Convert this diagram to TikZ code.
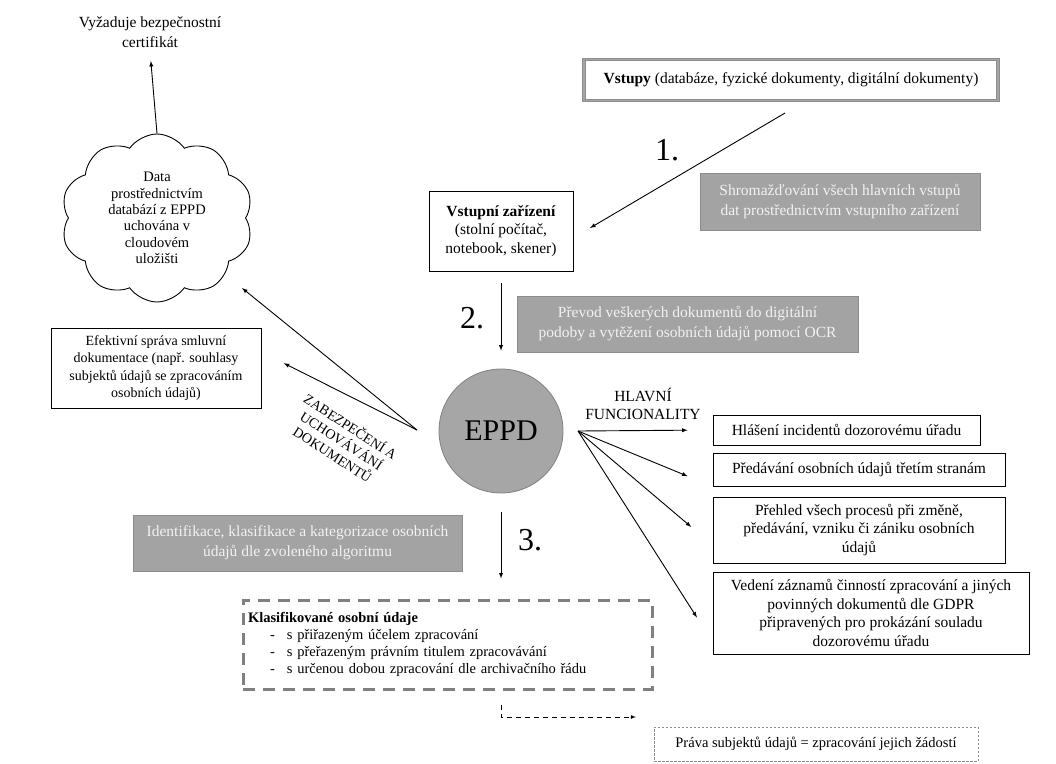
\documentclass[tikz,border=0pt]{standalone}
\usepackage{fontspec}
\setmainfont{Liberation Serif}
\usetikzlibrary{shapes.symbols}

\begin{document}
\begin{tikzpicture}[
      x=1pt, y=-1pt,
      pointer/.style={->, >=latex, line width=0.9pt, draw=black},
      dpointer/.style={->, >=latex, line width=0.8pt, dash pattern=on 5pt off 4pt, draw=black},
      box/.style={rectangle, draw=black, line width=0.9pt, align=center, inner sep=2pt, font=\fontsize{15.5}{18.5}\selectfont},
      graybox/.style={rectangle, draw=black!45, fill=black!36, text=black!5, line width=0.8pt, align=center, font=\fontsize{15.5}{20}\selectfont},
      number/.style={font=\fontsize{32}{32}\selectfont},
      small/.style={font=\fontsize{14.5}{16.3}\selectfont, align=center}
      ]
      \useasboundingbox (0,0) rectangle (1056,763);

      % Top left: cloud storage and its certificate
      \node[align=center, font=\fontsize{15.5}{20}\selectfont] (cert) at (150,32) {Vyžaduje bezpečnostní\\certifikát};
      \node[cloud, cloud puffs=10, cloud puff arc=110, aspect=1.15, draw, line width=0.9pt, inner sep=0pt,
            minimum width=192, minimum height=168, small] (cloud) at (157,218)
        {Data\\prostřednictvím\\databází z EPPD\\uchována v\\cloudovém\\uložišti};

      % Inputs and the first step
      \node[draw=black!45, double=black!35, double distance=1.8pt, line width=1pt, minimum width=414, minimum height=41,
            font=\fontsize{15.5}{18.5}\selectfont] (vstupy) at (791,80)
        {\textbf{Vstupy} (databáze, fyzické dokumenty, digitální dokumenty)};
      \node[number] (num1) at (667,150) {1.};
      \node[graybox, minimum width=280, minimum height=57] (krok1) at (840,201.5)
        {Shromažďování všech hlavních vstupů\\dat prostřednictvím vstupního zařízení};
      \node[box, minimum width=144, minimum height=80] (zarizeni) at (501,231)
        {\textbf{Vstupní zařízení}\\(stolní počítač,\\notebook, skener)};

      % Second step
      \node[number] (num2) at (472,318) {2.};
      \node[graybox, minimum width=341, minimum height=56] (krok2) at (687.5,324)
        {Převod veškerých dokumentů do digitální\\podoby a vytěžení osobních údajů pomocí OCR};

      % The core
      \node[circle, draw=black!50, fill=black!35, line width=0.8pt, minimum size=124, font=\fontsize{30}{30}\selectfont] (eppd) at (501,431) {EPPD};

      % Left side: storage
      \node[box, minimum width=210, minimum height=80, font=\fontsize{14}{17.4}\selectfont] (sprava) at (156,368)
        {Efektivní správa smluvní\\dokumentace (např. souhlasy\\subjektů údajů se zpracováním\\osobních údajů)};
      \node[rotate=-33, align=center, font=\fontsize{14}{16.5}\selectfont] (zabezp) at (342,440)
        {ZABEZPEČENÍ A\\UCHOVÁVÁNÍ\\DOKUMENTŮ};

      % Right side: main functions
      \node[align=center, font=\fontsize{15.5}{18}\selectfont] (funkce) at (643,404) {HLAVNÍ\\FUNCIONALITY};
      \node[box, minimum width=267, minimum height=30] (hlaseni) at (846.5,430) {Hlášení incidentů dozorovému úřadu};
      \node[box, minimum width=292, minimum height=33] (predavani) at (859,469.5) {Předávání osobních údajů třetím stranám};
      \node[box, minimum width=292, minimum height=66] (prehled) at (859,530)
        {Přehled všech procesů při změně,\\předávání, vzniku či zániku osobních\\údajů};
      \node[box, minimum width=316, minimum height=82] (vedeni) at (871,613)
        {Vedení záznamů činností zpracování a jiných\\povinných dokumentů dle GDPR\\připravených pro prokázání souladu\\dozorovému úřadu};

      % Third step and its result
      \node[graybox, minimum width=329, minimum height=56] (krok3) at (297.5,543)
        {Identifikace, klasifikace a kategorizace osobních\\údajů dle zvoleného algoritmu};
      \node[number] (num3) at (530,540) {3.};
      \node[draw=black!50, line width=3pt, dash pattern=on 12pt off 8pt, text width=399, inner sep=5pt, minimum height=89,
            align=left, font=\fontsize{14.5}{17}\selectfont] (klasif) at (447.5,644.5)
        {\textbf{Klasifikované osobní údaje}\\
         \hspace*{22pt}-\hspace*{12pt}s přiřazeným účelem zpracování\\
         \hspace*{22pt}-\hspace*{12pt}s přeřazeným právním titulem zpracovávání\\
         \hspace*{22pt}-\hspace*{12pt}s určenou dobou zpracování dle archivačního řádu};
      \node[draw=black!45, line width=0.6pt, dash pattern=on 2.5pt off 1.5pt, minimum width=324, minimum height=34,
            font=\fontsize{14.5}{17}\selectfont] (prava) at (816,744)
        {Práva subjektů údajů = zpracování jejich žádostí};

      % Free ends of the connectors
      \coordinate (a1s) at (785,113);
      \coordinate (a1e) at (590,228);
      \coordinate (zabL) at (417,430);
      \coordinate (cloudIn) at (242,288);
      \coordinate (funR) at (578,431);
      \coordinate (pravaIn) at (636,717);

      % Now the pointers
      \path (cloud.north) edge [pointer, shorten >=10pt] (cert.south);
      \path (a1s) edge [pointer] (a1e);
      \path (zarizeni.south) edge [pointer, shorten <=12pt, shorten >=18pt] (eppd.north);
      \path (zabL) edge [pointer] (cloudIn);
      \path (zabL) edge [pointer, shorten >=25pt] ([yshift=16pt]sprava.east);
      \path (funR) edge [pointer, shorten >=25pt] (hlaseni.west);
      \path (funR) edge [pointer, shorten >=27pt] (predavani.south west);
      \path (funR) edge [pointer, shorten >=28pt] ([yshift=-15pt]prehled.west);
      \path (funR) edge [pointer, shorten >=29pt] ([yshift=-29pt]vedeni.west);
      \path (eppd.south) edge [pointer, shorten <=19pt, shorten >=20pt] (eppd.south |- klasif.north);
      \draw[dpointer, shorten <=14pt] (eppd.south |- klasif.south) |- (pravaIn);
    \end{tikzpicture}
\end{document}
